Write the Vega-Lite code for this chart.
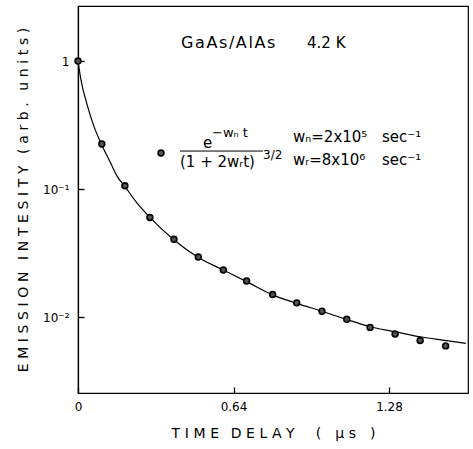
{
  "$schema": "https://vega.github.io/schema/vega-lite/v6.json",
  "width": 390,
  "height": 387,
  "autosize": {"type": "none"},
  "padding": {"left": 78, "top": 6, "right": 5, "bottom": 56},
  "background": "white",
  "config": {
    "view": {"stroke": "black", "strokeWidth": 1.2},
    "font": "DejaVu Sans",
    "axis": {"grid": false, "domainColor": "black", "tickColor": "black", "labelColor": "black", "titleColor": "black", "labelFont": "DejaVu Sans", "titleFont": "DejaVu Sans", "titleFontWeight": "normal", "domainWidth": 1.2, "tickWidth": 1.3, "labelFlush": false}
  },
  "datasets": {
    "curve": [
      {"t": 0, "v": 1}, {"t": 0.011, "v": 0.733}, {"t": 0.038, "v": 0.453}, {"t": 0.066, "v": 0.307},
      {"t": 0.096, "v": 0.225}, {"t": 0.135, "v": 0.159}, {"t": 0.162, "v": 0.125}, {"t": 0.192, "v": 0.1055},
      {"t": 0.244, "v": 0.0772}, {"t": 0.296, "v": 0.0601}, {"t": 0.392, "v": 0.0405}, {"t": 0.495, "v": 0.0292},
      {"t": 0.598, "v": 0.0233}, {"t": 0.694, "v": 0.0189}, {"t": 0.801, "v": 0.0149}, {"t": 0.9, "v": 0.0128},
      {"t": 1.003, "v": 0.0111}, {"t": 1.103, "v": 0.0096}, {"t": 1.202, "v": 0.0084}, {"t": 1.305, "v": 0.00768},
      {"t": 1.408, "v": 0.00701}, {"t": 1.517, "v": 0.00655}, {"t": 1.596, "v": 0.00623}
    ],
    "points": [
      {"t": 0, "v": 1}, {"t": 0.098, "v": 0.225}, {"t": 0.193, "v": 0.106}, {"t": 0.296, "v": 0.06},
      {"t": 0.395, "v": 0.0405}, {"t": 0.495, "v": 0.0294}, {"t": 0.598, "v": 0.0233}, {"t": 0.694, "v": 0.0191},
      {"t": 0.801, "v": 0.015}, {"t": 0.9, "v": 0.0129}, {"t": 1.004, "v": 0.0111}, {"t": 1.106, "v": 0.0096},
      {"t": 1.202, "v": 0.0083}, {"t": 1.305, "v": 0.00736}, {"t": 1.408, "v": 0.00655}, {"t": 1.513, "v": 0.00595}
    ]
  },
  "layer": [
    {
      "data": {"name": "curve"},
      "mark": {"type": "line", "interpolate": "monotone", "color": "black", "strokeWidth": 1.2},
      "encoding": {
        "x": {"field": "t", "type": "quantitative", "scale": {"domain": [0, 1.605], "nice": false, "zero": false},
              "axis": {"values": [0, 0.64, 1.28], "format": ".2~f", "tickSize": -6, "labelPadding": 14, "labelFontSize": 12, "title": "T\u2004I\u2004M\u2004E\u2002\u2004D\u2004E\u2004L\u2004A\u2004Y\u2002\u2002\u2002(\u2002\u2002µ\u2004s\u2002\u2002)", "titleFontSize": 14, "titlePadding": 14}},
        "y": {"field": "v", "type": "quantitative", "scale": {"type": "log", "domain": [0.00255, 2.69], "nice": false},
              "axis": {"values": [1, 0.1, 0.01], "tickSize": -6, "labelPadding": 15, "labelFontSize": 12,
                       "labelExpr": "datum.value > 0.5 ? '1' : datum.value > 0.05 ? '10⁻¹' : '10⁻²'",
                       "title": "E\u2004M\u2004I\u2004S\u2004S\u2004I\u2004O\u2004N\u2002\u2004I\u2004N\u2004T\u2004E\u2004S\u2004I\u2004T\u2004Y\u2002\u2004(\u2004a\u2004r\u2004b\u2004.\u2002\u2004u\u2004n\u2004i\u2004t\u2004s\u2004)", "titleFontSize": 14, "titlePadding": 12}}
      }
    },
    {
      "data": {"name": "points"},
      "mark": {"type": "point", "shape": "circle", "filled": true, "fill": "#555", "stroke": "black", "strokeWidth": 1.6, "size": 34, "opacity": 1},
      "encoding": {
        "x": {"field": "t", "type": "quantitative"},
        "y": {"field": "v", "type": "quantitative", "scale": {"type": "log"}}
      }
    },
    {
      "data": {"values": [{}]},
      "mark": {"type": "point", "shape": "circle", "filled": true, "fill": "#555", "stroke": "black", "strokeWidth": 1.6, "size": 34, "opacity": 1},
      "encoding": {
        "x": {"datum": 0.3416, "type": "quantitative"},
        "y": {"datum": 0.191, "type": "quantitative", "scale": {"type": "log"}}
      }
    },
    {
      "data": {"values": [{}]},
      "mark": {"type": "text", "align": "left", "baseline": "middle", "fontSize": 16, "color": "black"},
      "encoding": {
        "x": {"datum": 0.424, "type": "quantitative"},
        "y": {"datum": 1.395, "type": "quantitative", "scale": {"type": "log"}},
        "text": {"value": "G\u200Aa\u200AA\u200As\u200A/\u200AA\u200Al\u200AA\u200As"}
      }
    },
    {
      "data": {"values": [{}]},
      "mark": {"type": "text", "align": "left", "baseline": "middle", "fontSize": 15, "color": "black"},
      "encoding": {
        "x": {"datum": 0.9425, "type": "quantitative"},
        "y": {"datum": 1.395, "type": "quantitative", "scale": {"type": "log"}},
        "text": {"value": "4.2 K"}
      }
    },
    {
      "data": {"values": [{}]},
      "mark": {"type": "text", "align": "left", "baseline": "middle", "fontSize": 15, "color": "black"},
      "encoding": {
        "x": {"datum": 0.5145, "type": "quantitative"},
        "y": {"datum": 0.2288, "type": "quantitative", "scale": {"type": "log"}},
        "text": {"value": "e"}
      }
    },
    {
      "data": {"values": [{}]},
      "mark": {"type": "text", "align": "left", "baseline": "middle", "fontSize": 13, "color": "black"},
      "encoding": {
        "x": {"datum": 0.5515, "type": "quantitative"},
        "y": {"datum": 0.2738, "type": "quantitative", "scale": {"type": "log"}},
        "text": {"value": "−wₙ t"}
      }
    },
    {
      "data": {"values": [{}]},
      "mark": {"type": "rule", "color": "black", "strokeWidth": 1},
      "encoding": {
        "x": {"datum": 0.4198, "type": "quantitative"},
        "x2": {"datum": 0.7614},
        "y": {"datum": 0.198, "type": "quantitative", "scale": {"type": "log"}}
      }
    },
    {
      "data": {"values": [{}]},
      "mark": {"type": "text", "align": "left", "baseline": "middle", "fontSize": 15, "color": "black"},
      "encoding": {
        "x": {"datum": 0.4198, "type": "quantitative"},
        "y": {"datum": 0.1625, "type": "quantitative", "scale": {"type": "log"}},
        "text": {"value": "(1 + 2wᵣt)"}
      }
    },
    {
      "data": {"values": [{}]},
      "mark": {"type": "text", "align": "left", "baseline": "middle", "fontSize": 12, "color": "black"},
      "encoding": {
        "x": {"datum": 0.7614, "type": "quantitative"},
        "y": {"datum": 0.1844, "type": "quantitative", "scale": {"type": "log"}},
        "text": {"value": "3/2"}
      }
    },
    {
      "data": {"values": [{}]},
      "mark": {"type": "text", "align": "left", "baseline": "middle", "fontSize": 15, "color": "black"},
      "encoding": {
        "x": {"datum": 0.8849, "type": "quantitative"},
        "y": {"datum": 0.2548, "type": "quantitative", "scale": {"type": "log"}},
        "text": {"value": "wₙ=2x10⁵"}
      }
    },
    {
      "data": {"values": [{}]},
      "mark": {"type": "text", "align": "left", "baseline": "middle", "fontSize": 15, "color": "black"},
      "encoding": {
        "x": {"datum": 1.2512, "type": "quantitative"},
        "y": {"datum": 0.2548, "type": "quantitative", "scale": {"type": "log"}},
        "text": {"value": "sec⁻¹"}
      }
    },
    {
      "data": {"values": [{}]},
      "mark": {"type": "text", "align": "left", "baseline": "middle", "fontSize": 15, "color": "black"},
      "encoding": {
        "x": {"datum": 0.8849, "type": "quantitative"},
        "y": {"datum": 0.1685, "type": "quantitative", "scale": {"type": "log"}},
        "text": {"value": "wᵣ=8x10⁶"}
      }
    },
    {
      "data": {"values": [{}]},
      "mark": {"type": "text", "align": "left", "baseline": "middle", "fontSize": 15, "color": "black"},
      "encoding": {
        "x": {"datum": 1.2512, "type": "quantitative"},
        "y": {"datum": 0.1685, "type": "quantitative", "scale": {"type": "log"}},
        "text": {"value": "sec⁻¹"}
      }
    }
  ]
}
